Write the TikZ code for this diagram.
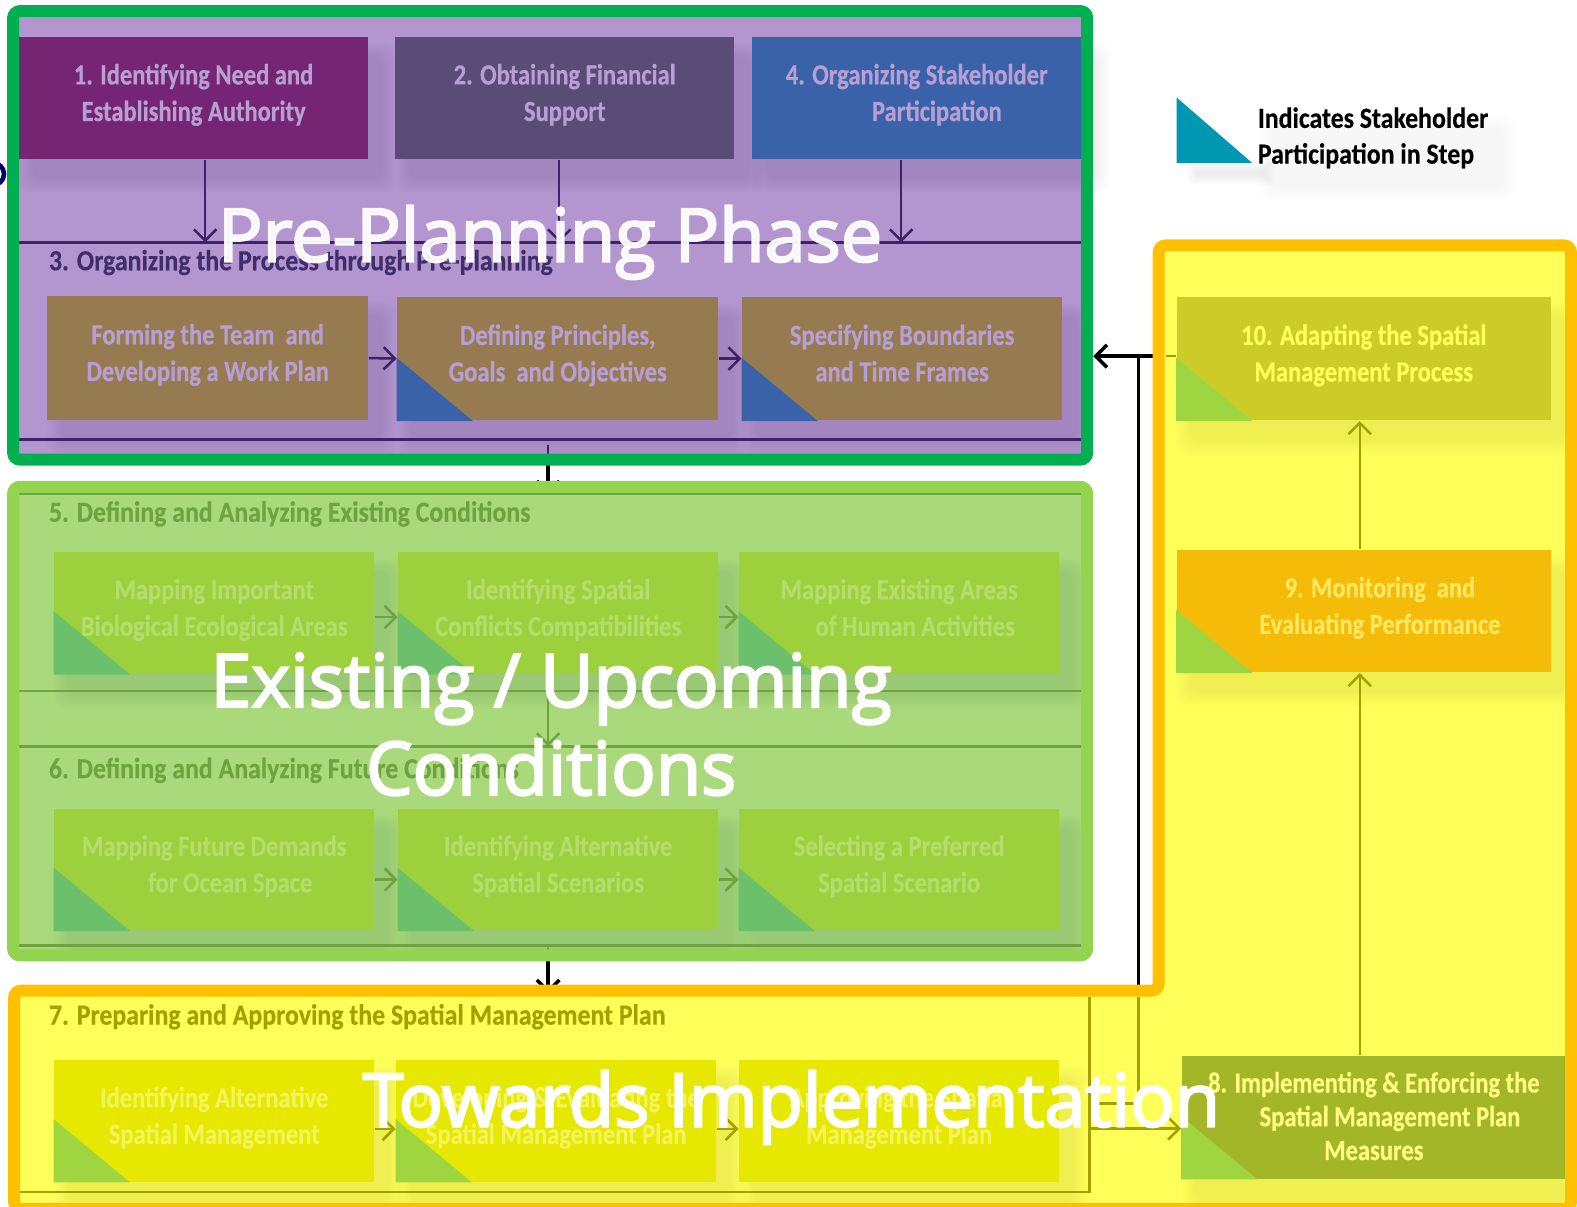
\documentclass[tikz,border=0pt]{standalone}
\usepackage{fontspec}
\setmainfont{Carlito}[FakeStretch=0.84,BoldFeatures={FakeBold=0.5}]
\newfontfamily\headfont{Carlito}[FakeStretch=0.885,BoldFeatures={FakeBold=0.3}]
\newfontfamily\phasefont{Open Sans}[FakeBold=3]
\usetikzlibrary{arrows.meta,calc}
\newlength\pxu
\setlength\pxu{0.010057cm}
\definecolor{prebg}{HTML}{B396CF}
\definecolor{prewire}{HTML}{3F2166}
\definecolor{pretext}{HTML}{B79ED3}
\definecolor{prebrown}{HTML}{967A50}
\definecolor{preblue}{HTML}{3A62A8}
\definecolor{grnbg}{HTML}{A9D97A}
\definecolor{grnframe}{HTML}{92D350}
\definecolor{grnbox}{HTML}{9CD03C}
\definecolor{grntri}{HTML}{6CC06C}
\definecolor{grnwire}{HTML}{6FA33F}
\definecolor{grntext}{HTML}{B4DE6C}
\definecolor{yelbg}{HTML}{FFFF5A}
\definecolor{yelbox}{HTML}{E6E800}
\definecolor{yeltri}{HTML}{9FD63F}
\definecolor{yelwire}{HTML}{A3A000}
\definecolor{yeltext}{HTML}{F4F45A}
\pgfdeclarelayer{wires}
\pgfdeclarelayer{frames}
\pgfdeclarelayer{shades}
\pgfdeclarelayer{top}
\pgfsetlayers{wires,frames,shades,main,top}
\tikzset{
	boxsize/.style 2 args={minimum width=#1*\pxu,minimum height=#2*\pxu},
	stepbox/.style={inner sep=0pt,align=center,text depth=3.2pt,font=\fontsize{8.3}{10.4}\selectfont\bfseries},
	headtext/.style={inner sep=0pt,anchor=west,font=\fontsize{8.3}{10.4}\selectfont\headfont\bfseries},
	phase/.style={inner sep=0pt,align=center,font=\fontsize{21}{25}\selectfont\phasefont,white},
	wire/.style={line width=.72pt,-{Straight Barb[length=3.2pt,width=6.4pt]}},
	rule/.style={line width=.72pt},
	frame/.style={line width=3.4pt,rounded corners=2pt}
}
\newcommand{\softshade}[2][.009]{
	\begin{pgfonlayer}{shades}
	\foreach \s in {0,2,...,14}{
		\fill[black,opacity=#1,rounded corners=3pt] ($(#2.north west)+(14-\s,20-\s)$) rectangle ($(#2.south east)+(14+\s,20+\s)$);
	}
	\end{pgfonlayer}
}
\newcommand{\sidetri}[2]{\fill[#2] (#1.south west)++(0,-63) -- (#1.south west) -- ++(76,0) -- cycle;}
\begin{document}
\begin{tikzpicture}[x=\pxu,y=-\pxu]
\useasboundingbox (0,0) rectangle (1568,1200);
\draw[line width=1.3pt,color=blue!40!black] (-7,173) circle (11);

% row of steps above step 3
\node[stepbox,boxsize={347}{121},fill={rgb,255:red,118;green,37;blue,114},text=pretext] (need) at (192.5,97.5) {1. Identifying Need and\\Establishing Authority};
\node[stepbox,boxsize={337}{121},fill={rgb,255:red,90;green,76;blue,119},text=pretext] (funds) at (561.5,97.5) {2. Obtaining Financial\\Support};
\node[stepbox,boxsize={327}{121},fill=preblue,text=pretext] (people) at (911.5,97.5) {4. Organizing Stakeholder\\\hspace*{40\pxu}Participation};
\coordinate (pretopL) at (19,241);
\coordinate (pretopR) at (1075,241);
\draw[rule,prewire] (pretopL) -- (pretopR);
\coordinate (needend) at (204,241);
\coordinate (fundsend) at (556,241);
\coordinate (peopleend) at (896,241);
\draw[wire,prewire] (needend |- need.south) -- (needend);
\draw[wire,prewire] (fundsend |- funds.south) -- (fundsend);
\draw[wire,prewire] (peopleend |- people.south) -- (peopleend);
\node[headtext,text={rgb,255:red,63;green,46;blue,107}] (prehead) at (48,261) {3. Organizing the Process through Pre-planning};

\node[stepbox,boxsize={319}{124},fill=prebrown,text=pretext] (team) at (206.5,356) {Forming the Team~ and\\Developing a Work Plan};
\node[stepbox,boxsize={319}{123},fill=prebrown,text=pretext] (goals) at (554.5,356.5) {Defining Principles,\\Goals~ and Objectives};
\node[stepbox,boxsize={318}{123},fill=prebrown,text=pretext] (bounds) at (897,356.5) {Specifying Boundaries\\and Time Frames};
\sidetri{goals}{preblue}
\sidetri{bounds}{preblue}
\draw[wire,prewire] (team.east) -- (goals.west);
\draw[wire,prewire] (goals.east) -- (bounds.west);
\coordinate (prelowL) at (19,437);
\coordinate (prelowR) at (1075,437);
\draw[rule,prewire] (prelowL) -- (prelowR);
\coordinate (prestub) at (545,442);
\draw[rule,prewire] (prestub) -- ++(0,10);

% existing conditions
\coordinate (grntopL) at (19,491);
\coordinate (grntopR) at (1075,491);
\draw[rule,grnwire] (grntopL) -- (grntopR);
\node[headtext,text=grnwire] (grnheadA) at (48,511) {5. Defining and Analyzing Existing Conditions};
\node[stepbox,boxsize={318}{121},fill=grnbox,text=grntext] (areas) at (213,609.5) {Mapping Important\\Biological Ecological Areas};
\node[stepbox,boxsize={318}{121},fill=grnbox,text=grntext] (clash) at (555,609.5) {Identifying Spatial\\Conflicts Compatibilities};
\node[stepbox,boxsize={318}{121},fill=grnbox,text=grntext] (human) at (894,609.5) {Mapping Existing Areas\\\hspace*{32\pxu}of Human Activities};
\foreach \n in {areas,clash,human}{\sidetri{\n}{grntri}}
\draw[wire,grnwire] ($(areas.east)+(0,4)$) -- ($(clash.west)+(0,4)$);
\draw[wire,grnwire] ($(clash.east)+(0,4)$) -- ($(human.west)+(0,4)$);
\coordinate (grnmidL) at (19,687);
\coordinate (grnmidR) at (1075,687);
\coordinate (grnnextL) at (19,742);
\coordinate (grnnextR) at (1075,742);
\draw[rule,grnwire] (grnmidL) -- (grnmidR);
\draw[rule,grnwire] (grnnextL) -- (grnnextR);
\coordinate (grnfrom) at (545,687);
\coordinate (grnto) at (545,742);
\draw[wire,grnwire] (grnfrom) -- (grnto);
\node[headtext,text=grnwire] (grnheadB) at (48,766) {6. Defining and Analyzing Future Conditions};
\node[stepbox,boxsize={318}{121},fill=grnbox,text=grntext] (demand) at (213,864.5) {Mapping Future Demands\\\hspace*{32\pxu}for Ocean Space};
\node[stepbox,boxsize={318}{121},fill=grnbox,text=grntext] (scen) at (555,864.5) {Identifying Alternative\\Spatial Scenarios};
\node[stepbox,boxsize={318}{121},fill=grnbox,text=grntext] (pref) at (894,864.5) {Selecting a Preferred\\Spatial Scenario};
\foreach \n in {demand,scen,pref}{\sidetri{\n}{grntri}}
\draw[wire,grnwire] ($(demand.east)+(0,10)$) -- ($(scen.west)+(0,10)$);
\draw[wire,grnwire] ($(scen.east)+(0,10)$) -- ($(pref.west)+(0,10)$);
\coordinate (grnlowL) at (19,940);
\coordinate (grnlowR) at (1075,940);
\draw[rule,grnwire] (grnlowL) -- (grnlowR);
\coordinate (grnstub) at (545,940);
\draw[rule,grnwire] (grnstub) -- ++(0,6);

% the plan
\node[headtext,text=yelwire] (yelhead) at (48,1011) {7. Preparing and Approving the Spatial Management Plan};
\node[stepbox,boxsize={318}{121},fill=yelbox,text=yeltext] (alt) at (213,1114.5) {Identifying Alternative\\Spatial Management};
\node[stepbox,boxsize={318}{121},fill=yelbox,text=yeltext] (devel) at (553,1114.5) {Developing \& Evaluating the\\Spatial Management Plan};
\node[stepbox,boxsize={318}{121},fill=yelbox,text=yeltext] (appr) at (894,1114.5) {Approving the Spatial\\Management Plan};
\foreach \n in {alt,devel}{\sidetri{\n}{yeltri}}
\draw[wire,yelwire] ($(alt.east)+(0,8)$) -- ($(devel.west)+(0,8)$);
\draw[wire,yelwire] ($(devel.east)+(0,8)$) -- ($(appr.west)+(0,8)$);
\coordinate (yeltop) at (1083,991);
\coordinate (yelcorner) at (1083,1185);
\coordinate (yellowL) at (19,1185);
\draw[rule,yelwire] (yeltop) -- (yelcorner) -- (yellowL);

% right column
\node[stepbox,boxsize={372}{123},fill={rgb,255:red,204;green,204;blue,40},text=yelbg] (adapt) at (1356,356.5) {10. Adapting the Spatial\\Management Process};
\node[stepbox,boxsize={372}{122},fill={rgb,255:red,244;green,188;blue,8},text={rgb,255:red,255;green,232;blue,96}] (monitor) at (1356,607.5) {\hspace*{32\pxu}9. Monitoring~ and\\\hspace*{32\pxu}Evaluating Performance};
\node[stepbox,boxsize={382}{122},fill={rgb,255:red,162;green,182;blue,40},text depth=.8pt,font=\fontsize{8.3}{9.6}\selectfont\bfseries,text={rgb,255:red,255;green,255;blue,128}] (enforce) at (1366,1111) {8. Implementing \& Enforcing the\\\hspace*{32\pxu}Spatial Management Plan\\Measures};
\foreach \n in {adapt,monitor,enforce}{\sidetri{\n}{yeltri}}
\coordinate (riseup) at (1352,1050);
\draw[wire,yelwire] (riseup |- enforce.north) -- (riseup |- monitor.south);
\draw[wire,yelwire] (riseup |- monitor.north) -- (riseup |- adapt.south);
\coordinate (planout) at (1083,1122);
\draw[wire,yelwire] (planout) -- (enforce.west |- planout);
\coordinate (backL) at (1083,1097);
\coordinate (backR) at (1132,1097);
\coordinate (backmid) at (1132,991);
\draw[rule,yelwire,line width=1pt] (backL) -- (backR);
\draw[rule,yelwire] (backR) -- (backmid);
\coordinate (adaptout) at (1159,354);
\draw[rule,yelwire] (adaptout) -- (adapt.west |- adaptout);

% legend
\fill[fill={rgb,255:red,0;green,151;blue,178}] (1170,97) coordinate (keytop) -- (1170,162) coordinate (keycorner) -- (1245,162) -- cycle;
\node[inner sep=0pt,anchor=west,align=left,font=\fontsize{8.3}{10.2}\selectfont\headfont\bfseries] (keytext) at (1250,137) {Indicates Stakeholder\\Participation in Step};

% soft shadows
\foreach \n in {need,funds,people,team,goals,bounds,areas,clash,human,demand,scen,pref,alt,devel,appr,adapt,monitor,enforce}{\softshade{\n}}
\softshade[.004]{keytext}
\begin{pgfonlayer}{shades}
	\foreach \s in {0,2,...,12}{
		\fill[black,opacity=.01] ($(keycorner)+(22-\s,10-\s)$) rectangle ($(keycorner)+(85+\s,10+\s)$);
	}
\end{pgfonlayer}

\begin{pgfonlayer}{wires}
	\draw[rule,line width=1pt,black] (1132,985) coordinate (backtop) -- (1132,354) coordinate (backjoin);
	\coordinate (frameR) at (1087,354);
	\draw[wire,black,line width=1pt] (1159,354) -- (frameR);
	\draw[wire,black,line width=1pt] (545,440) -- (545,492);
	\draw[wire,black,line width=1pt] (545,943) -- (545,988);
\end{pgfonlayer}

\begin{pgfonlayer}{frames}
	\fill[prebg] (13,11) rectangle (1081,457);
	\fill[grnbg] (13,484) rectangle (1081,950);
	\fill[yelbg] (14,985) -- (1152,985) -- (1152,244) -- (1562,244) -- (1562,1202) -- (14,1202) -- cycle;
\end{pgfonlayer}

\begin{pgfonlayer}{top}
	\draw[frame,color={rgb,255:red,0;green,176;blue,80}] (13,11) rectangle (1081,457);
	\draw[frame,grnframe] (13,484) rectangle (1081,950);
	\draw[frame,color={rgb,255:red,255;green,192;blue,0}] (14,985) -- (1152,985) -- (1152,244) -- (1562,244) -- (1562,1202) -- (14,1202) -- cycle;
	\node[phase,opacity=.93] (prephase) at (547,241) {Pre-Planning Phase};
	\node[phase] (existphase) at (548,720) {Existing / Upcoming\\Conditions};
	\node[phase] (towards) at (787,1101) {Towards Implementation};
\end{pgfonlayer}
\end{tikzpicture}
\end{document}
